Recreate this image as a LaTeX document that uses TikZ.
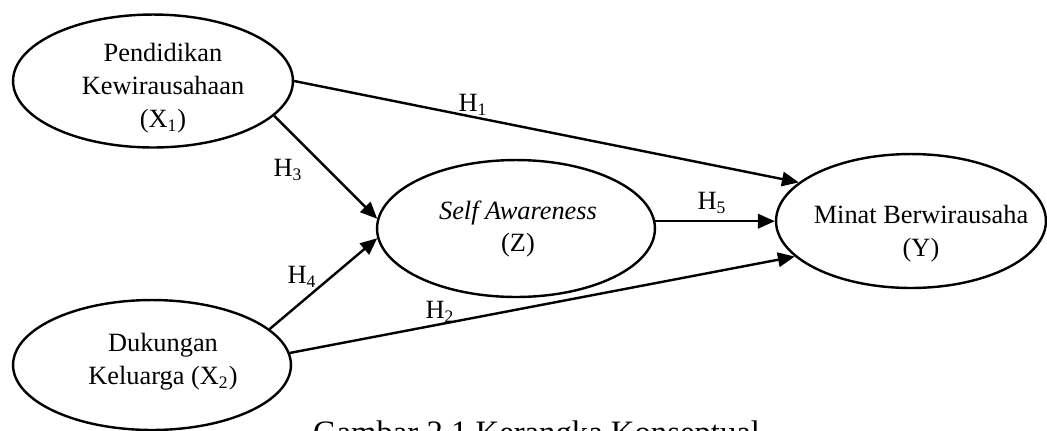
\documentclass[tikz,border=0pt]{standalone}
\usepackage{fontspec}
\setmainfont{Liberation Serif}
\usetikzlibrary{arrows.meta,shapes.geometric}

\begin{document}
\begin{tikzpicture}[x=0.016cm, y=-0.016cm,
        var/.style={draw, ellipse, line width=1.1pt, inner sep=0pt},
        txt/.style={align=center, font=\fontsize{12pt}{15pt}\selectfont},
        hyp/.style={font=\fontsize{12pt}{15pt}\selectfont},
        arr/.style={-{Triangle[length=2.7mm, width=2.3mm]}, line width=1.1pt}]
        \useasboundingbox (0,0) rectangle (1047,430);

        % Variables
        \node[var, minimum width=4.48cm, minimum height=2.128cm] (X1) at (153, 81) {};
        \node[txt] (X1txt) at (163, 88) {Pendidikan\\Kewirausahaan\\(X\textsubscript{1})};

        \node[var, minimum width=4.448cm, minimum height=2.192cm] (Z) at (516, 228.5) {};
        \node[txt] (Ztxt) at (518, 229) {\textit{Self Awareness}\\(Z)};

        \node[var, minimum width=4.32cm, minimum height=2.144cm] (Y) at (911, 221) {};
        \node[txt] (Ytxt) at (921, 234) {Minat Berwirausaha\\(Y)};

        \node[var, minimum width=4.448cm, minimum height=2.08cm] (X2) at (152, 365) {};
        \node[txt] (X2txt) at (163, 362) {Dukungan\\Keluarga (X\textsubscript{2})};

        % Connections
        \draw[arr] (X1.east) -- (Y.161);
        \draw[arr] (X2.5) -- (Y.197);
        \draw[arr] (X1.-16) -- (Z.176);
        \draw[arr] (X2.17) -- (Z.184);
        \draw[arr] (Z.3) -- (Z.3 -| Y.west);

        % Labels
        \node[hyp] (h1) at (473, 105) {H\textsubscript{1}};
        \node[hyp] (h2) at (440, 312) {H\textsubscript{2}};
        \node[hyp] (h3) at (288, 170) {H\textsubscript{3}};
        \node[hyp] (h4) at (302, 277) {H\textsubscript{4}};
        \node[hyp] (h5) at (712, 203) {H\textsubscript{5}};

        % Caption
        \node[font=\fontsize{14.9pt}{18pt}\selectfont, anchor=base] (cap) at (536.5, 443.6) {Gambar 2.1 Kerangka Konseptual};
    \end{tikzpicture}
\end{document}
